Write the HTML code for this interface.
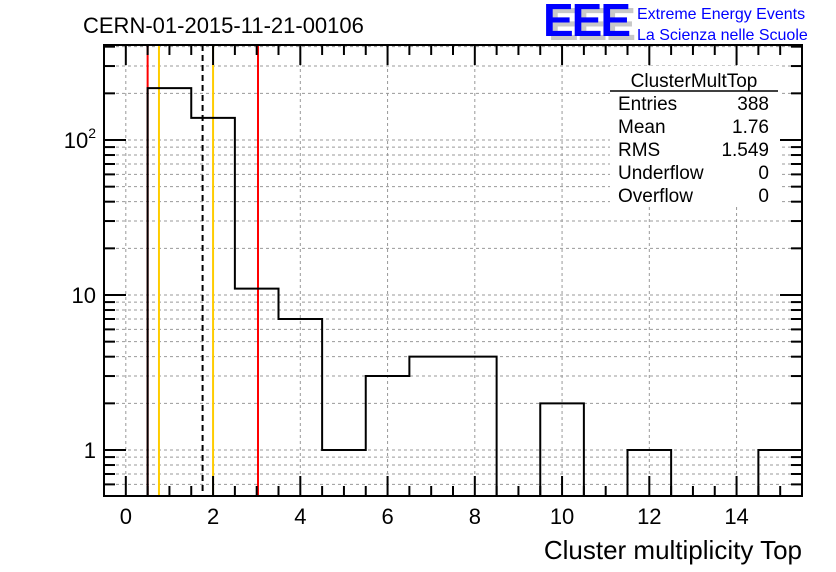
<!DOCTYPE html>
<html><head><meta charset="utf-8"><style>
html,body{margin:0;padding:0;background:#fff;}
svg{display:block;font-family:"Liberation Sans",sans-serif;}
</style></head><body>
<svg id="chart" width="836" height="572" viewBox="0 0 836 572">
<rect width="836" height="572" fill="#fff"/>
<text x="83" y="33" font-size="22">CERN-01-2015-11-21-00106</text>
<g>
<text x="548" y="40" font-size="46" font-weight="bold" fill="#c8c8c8" letter-spacing="-2">EEE</text>
<text x="543" y="36" font-size="46" font-weight="bold" fill="#0000ff" letter-spacing="-2">EEE</text>
<text x="637" y="19" font-size="16" fill="#0000ff">Extreme Energy Events</text>
<text x="637" y="40" font-size="16" fill="#0000ff">La Scienza nelle Scuole</text>
</g>
<g id="grid"></g>
<g id="marks"></g>
<g>
<rect x="610" y="66" width="170" height="140" fill="#fff"/>
<text x="694" y="87" font-size="19" text-anchor="middle">ClusterMultTop</text>
<line x1="610" y1="91" x2="778" y2="91" stroke="#000" stroke-width="1.5"/>
<g font-size="19">
<text x="618" y="110">Entries</text><text x="769" y="110" text-anchor="end">388</text>
<text x="618" y="133">Mean</text><text x="769" y="133" text-anchor="end">1.76</text>
<text x="618" y="156">RMS</text><text x="769" y="156" text-anchor="end">1.549</text>
<text x="618" y="179">Underflow</text><text x="769" y="179" text-anchor="end">0</text>
<text x="618" y="202">Overflow</text><text x="769" y="202" text-anchor="end">0</text>
</g></g>
<g id="axes"></g>
<text x="802" y="559" font-size="26" text-anchor="end">Cluster multiplicity Top</text>
</svg>
<script>
const binCenters=[1,2,3,4,5,6,7,8,9,10,11,12,13,14,15];
const counts=[216,139,11,7,1,3,4,4,0,2,0,1,0,0,1];
const xTicks=[0,2,4,6,8,10,12,14];
const yMajor=[1,10,100];
const yMajorLabels=["1","10","10"];
const yMajorSup=["","","2"];
const redLines=[0.5,3.03];
const yellowLines=[0.76,2.0];
const meanLine=[1.76];
const L=104,R=802,T=45,B=496,xmin=-0.5,xmax=15.5;
const X=v=>L+(v-xmin)/(xmax-xmin)*(R-L);
const Y=v=>450-Math.log10(v)*155;
const NS="http://www.w3.org/2000/svg";
function mk(p,tag,at){const e=document.createElementNS(NS,tag);for(const k in at)e.setAttribute(k,at[k]);p.appendChild(e);return e;}
const grid=document.getElementById('grid'),marks=document.getElementById('marks'),axes=document.getElementById('axes');
xTicks.forEach(t=>{const l=mk(grid,'line',{x1:X(t),x2:X(t),y1:T,y2:B,stroke:'#999','stroke-dasharray':'3,3','stroke-width':1});

});
const yMinor=[];
[0.1,1,10,100].forEach(d=>{for(let m=1;m<10;m++){const v=d*m;const y=Y(v);if(y>=T&&y<=B)yMinor.push(v);}});
yMinor.forEach(v=>{const l=mk(grid,'line',{x1:L,x2:R,y1:Y(v),y2:Y(v),stroke:'#999','stroke-dasharray':'3,3','stroke-width':1});


const big=yMajor.includes(v);
const t1=mk(axes,'line',{x1:L,x2:L+(big?22:11),y1:Y(v),y2:Y(v),stroke:'#000','stroke-width':2});


const t2=mk(axes,'line',{x1:R,x2:R-(big?22:11),y1:Y(v),y2:Y(v),stroke:'#000','stroke-width':2});

});
let d='';const hw=0.5;let prev=null;
binCenters.forEach((c,i)=>{const v=counts[i];const y=v>0?Y(v):B;const x0=X(c-hw),x1=X(c+hw);
if(prev===null)d+=`M${x0},${B}L${x0},${y}`;else d+=`L${x0},${prev}L${x0},${y}`;d+=`L${x1},${y}`;prev=y;});
d+=`L${X(binCenters[binCenters.length-1]+hw)},${B}`;
redLines.forEach(v=>{const l=mk(marks,'line',{x1:X(v),x2:X(v),y1:T,y2:B,stroke:'#ff0000','stroke-width':2});

});
yellowLines.forEach(v=>{const l=mk(marks,'line',{x1:X(v),x2:X(v),y1:T,y2:B,stroke:'#ffcc00','stroke-width':2});

});
meanLine.forEach(v=>{const l=mk(marks,'line',{x1:X(v),x2:X(v),y1:T,y2:B,stroke:'#000','stroke-width':2,'stroke-dasharray':'6,4'});

});
const h=mk(marks,'path',{d:d,fill:'none',stroke:'#000','stroke-width':2});


for(let v=-0.5;v<=15.5;v+=0.5){const big=Math.abs(v-Math.round(v/2)*2)<1e-6;
const t=mk(axes,'line',{x1:X(v),x2:X(v),y1:B,y2:B-(big?20:10),stroke:'#000','stroke-width':2});


const t2=mk(axes,'line',{x1:X(v),x2:X(v),y1:T,y2:T+(big?20:10),stroke:'#000','stroke-width':2});

}
xTicks.forEach(v=>{const t=mk(axes,'text',{x:X(v),y:524,'font-size':22,'text-anchor':'middle'});t.textContent=v;

});
yMajor.forEach((v,i)=>{const t=mk(axes,'text',{x:L-8,y:Y(v)+8,'font-size':22,'text-anchor':'end'});


const a=mk(t,'tspan',{});a.textContent=yMajorLabels[i];
if(yMajorSup[i]){const s=mk(t,'tspan',{'font-size':14,dy:-10});s.textContent=yMajorSup[i];}});
const f=mk(axes,'rect',{x:L,y:T,width:R-L,height:B-T,fill:'none',stroke:'#000','stroke-width':2});


</script>
</body></html>
